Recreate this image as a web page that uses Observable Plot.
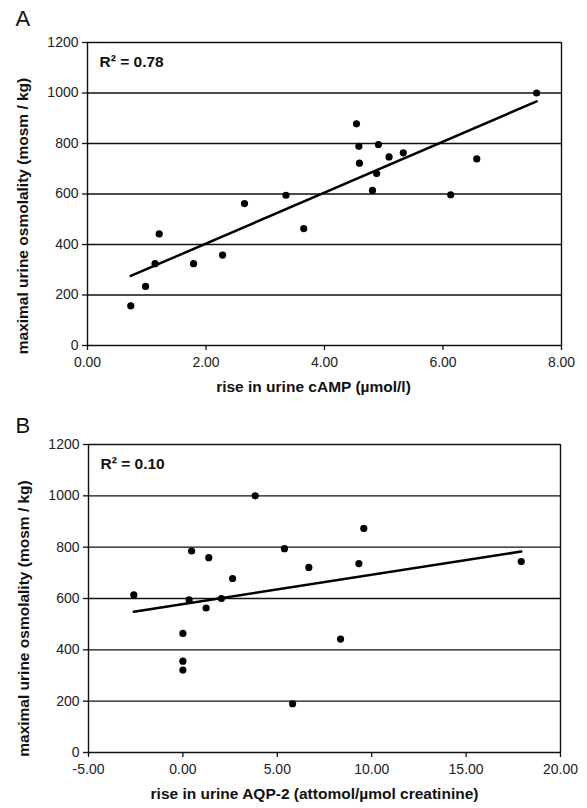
<!DOCTYPE html>
<html>
<head>
<meta charset="utf-8">
<script src="https://cdn.jsdelivr.net/npm/d3@7"></script>
<script src="https://cdn.jsdelivr.net/npm/@observablehq/plot@0.6"></script>
<style>
  html, body { margin: 0; padding: 0; background: #fff; }
  #chart { width: 587px; }
  #chart svg { display: block; }
</style>
</head>
<body>
<div id="chart"></div>
<script>
// Panel A: rise in urine cAMP (µmol/l) vs maximal urine osmolality
const campX = [0.73, 0.98, 1.14, 1.21, 1.79, 2.28, 2.65, 3.35, 3.65, 4.54, 4.58, 4.59, 4.81, 4.88, 4.91, 5.09, 5.33, 6.13, 6.57, 7.58];
const campY = [157, 234, 324, 442, 324, 358, 562, 595, 463, 878, 789, 722, 614, 681, 796, 747, 763, 597, 739, 1000];
// Panel B: rise in urine AQP-2 (attomol/µmol creatinine) vs maximal urine osmolality
const aqpX = [-2.60, 0.00, 0.00, 0.00, 0.33, 0.46, 1.23, 1.37, 2.04, 2.63, 3.83, 5.38, 5.81, 6.67, 8.35, 9.32, 9.58, 17.92];
const aqpY = [614, 464, 356, 321, 595, 785, 563, 759, 600, 678, 1000, 794, 190, 721, 442, 736, 873, 744];

const yTicks = [0, 200, 400, 600, 800, 1000, 1200];
const xTicksA = [0, 2, 4, 6, 8];
const xTicksB = [-5, 0, 5, 10, 15, 20];

const panels = [
  {
    letter: "A", xs: campX, ys: campY, xDomain: [0, 8], xTicks: xTicksA, r2: "R² = 0.78",
    xLabel: "rise in urine cAMP (µmol/l)",
    margins: {top: 42, right: 26, bottom: 59, left: 87},
    yLabelDy: 22, xLabelDx: -11, letterDy: -32
  },
  {
    letter: "B", xs: aqpX, ys: aqpY, xDomain: [-5, 20], xTicks: xTicksB, r2: "R² = 0.10",
    xLabel: "rise in urine AQP-2 (attomol/µmol creatinine)",
    margins: {top: 40, right: 27, bottom: 56, left: 88},
    yLabelDy: 20, xLabelDx: -10, letterDy: -27
  }
];

const font = "'Liberation Sans', Arial, Helvetica, sans-serif";

for (const p of panels) {
  const data = p.xs.map((x, i) => ({x, y: p.ys[i]}));
  const chart = Plot.plot({
    width: 587,
    height: 404,
    marginTop: p.margins.top,
    marginRight: p.margins.right,
    marginBottom: p.margins.bottom,
    marginLeft: p.margins.left,
    style: {fontFamily: font, fontSize: "14px", color: "#111", background: "#fff", overflow: "visible"},
    x: {domain: p.xDomain, ticks: p.xTicks, tickFormat: d => d.toFixed(2), label: null},
    y: {domain: [0, 1200], ticks: yTicks, tickFormat: d => String(d), label: null},
    marks: [
      Plot.ruleY(yTicks, {stroke: "#111", strokeWidth: 1.3}),
      Plot.ruleX([p.xDomain[0], p.xDomain[1]], {stroke: "#111", strokeWidth: 1.4}),
      Plot.axisX({ticks: p.xTicks, tickFormat: d => d.toFixed(2), tickSize: 5, tickPadding: 7, stroke: "#111", strokeWidth: 1.3, fill: "#222", fontSize: 14, label: null}),
      Plot.axisY({ticks: yTicks, tickFormat: d => String(d), tickSize: 5, tickPadding: 4, stroke: "#111", strokeWidth: 1.3, fill: "#222", fontSize: 14, label: null}),
      Plot.linearRegressionY(data, {x: "x", y: "y", ci: 0, stroke: "#000", strokeWidth: 2.5}),
      Plot.dot(data, {x: "x", y: "y", r: 3.6, fill: "#000", stroke: "none"}),
      Plot.text([p.r2], {frameAnchor: "top-left", dx: 12, dy: 13, text: d => d, fontWeight: "bold", fontSize: 15.5, textAnchor: "start", lineAnchor: "top", fill: "#111"}),
      Plot.text([p.xLabel], {frameAnchor: "bottom", dx: p.xLabelDx, dy: 46, text: d => d, fontWeight: "bold", fontSize: 15.5, textAnchor: "middle", fill: "#111"}),
      Plot.text(["maximal urine osmolality (mosm / kg)"], {frameAnchor: "left", dx: -64, dy: p.yLabelDy, rotate: -90, text: d => d, fontWeight: "bold", fontSize: 15.5, textAnchor: "middle", lineAnchor: "middle", fill: "#111"}),
      Plot.text([p.letter], {frameAnchor: "top-left", dx: 15 - p.margins.left, dy: p.letterDy, text: d => d, fontSize: 22, textAnchor: "start", lineAnchor: "top", fill: "#111"})
    ]
  });
  document.getElementById("chart").appendChild(chart);
}
</script>
</body>
</html>
